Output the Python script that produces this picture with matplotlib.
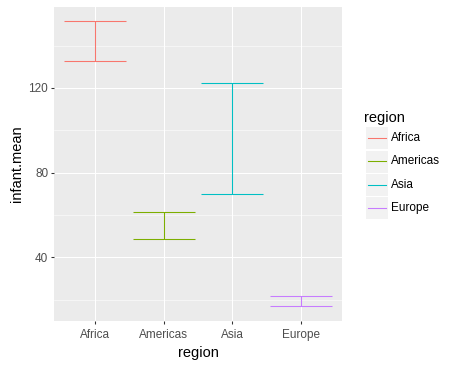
import matplotlib
matplotlib.use("Agg")
import matplotlib.pyplot as plt
from matplotlib.patches import Rectangle
from matplotlib.lines import Line2D

# --- Data ---
regions = ["Africa", "Americas", "Asia", "Europe"]
lower = [132.7, 48.5, 69.8, 16.9]
upper = [151.5, 61.6, 122.4, 21.6]
colors = ["#F8766D", "#7CAE00", "#00BFC4", "#C77CFF"]
y_ticks = [40, 80, 120]
y_minor = [20, 60, 100, 140]

W, H = 458, 368
plt.rcParams["font.family"] = ["Liberation Sans", "DejaVu Sans"]

fig = plt.figure(figsize=(W / 72, H / 72), dpi=72)

TICK_FS = 11.7
TITLE_FS = 14.6


def fx(px):
    return px / W


def fy(py):
    return 1 - py / H


# panel in pixel coordinates
p_left, p_right, p_top, p_bottom = 54, 342, 7, 320.7
ax = fig.add_axes([fx(p_left), fy(p_bottom), fx(p_right - p_left), (p_bottom - p_top) / H])
ax.set_facecolor("#EBEBEB")
for s in ax.spines.values():
    s.set_visible(False)

x = list(range(1, len(regions) + 1))
half = 0.45
for xi, lo, hi, c in zip(x, lower, upper, colors):
    ax.vlines(xi, lo, hi, color=c, lw=1.07)
    ax.hlines([lo, hi], xi - half, xi + half, color=c, lw=1.07)

ax.set_xlim(0.4, 4.6)
lo_all, hi_all = min(lower), max(upper)
pad = (hi_all - lo_all) * 0.05
ax.set_ylim(lo_all - pad, hi_all + pad)

ax.set_xticks(x)
ax.set_xticklabels(regions)
ax.set_yticks(y_ticks)
ax.set_yticks(y_minor, minor=True)
ax.grid(True, which="major", color="white", lw=1.07)
ax.grid(True, which="minor", axis="y", color="white", lw=0.53)
ax.set_axisbelow(True)
ax.tick_params(which="major", length=2.75, width=1.07, color="#333333",
               labelsize=TICK_FS, labelcolor="#4D4D4D")
ax.tick_params(axis="x", pad=6)
ax.tick_params(axis="y", pad=3)
ax.tick_params(which="minor", length=0)

ax.set_xlabel("region", fontsize=TITLE_FS, labelpad=5)
ax.set_ylabel("infant.mean", fontsize=TITLE_FS, labelpad=5)

# --- Legend (drawn by hand, ggplot style) ---
fig.text(fx(364), fy(118), "region", fontsize=TITLE_FS, va="center", ha="left")
key_w, key_h = 21.5, 23
row_y = [138, 161.5, 184.5, 207.5]
for name, c, ry in zip(regions, colors, row_y):
    fig.add_artist(Rectangle((fx(366), fy(ry + key_h / 2 - 0.5)), key_w / W, (key_h - 1) / H,
                             facecolor="#F2F2F2", edgecolor="none", transform=fig.transFigure))
    fig.add_artist(Line2D([fx(367.5), fx(386)], [fy(ry), fy(ry)], color=c, lw=1.07,
                          transform=fig.transFigure))
    fig.text(fx(391), fy(ry), name, fontsize=TICK_FS, va="center", ha="left")

fig.savefig("out.png", dpi=72)
